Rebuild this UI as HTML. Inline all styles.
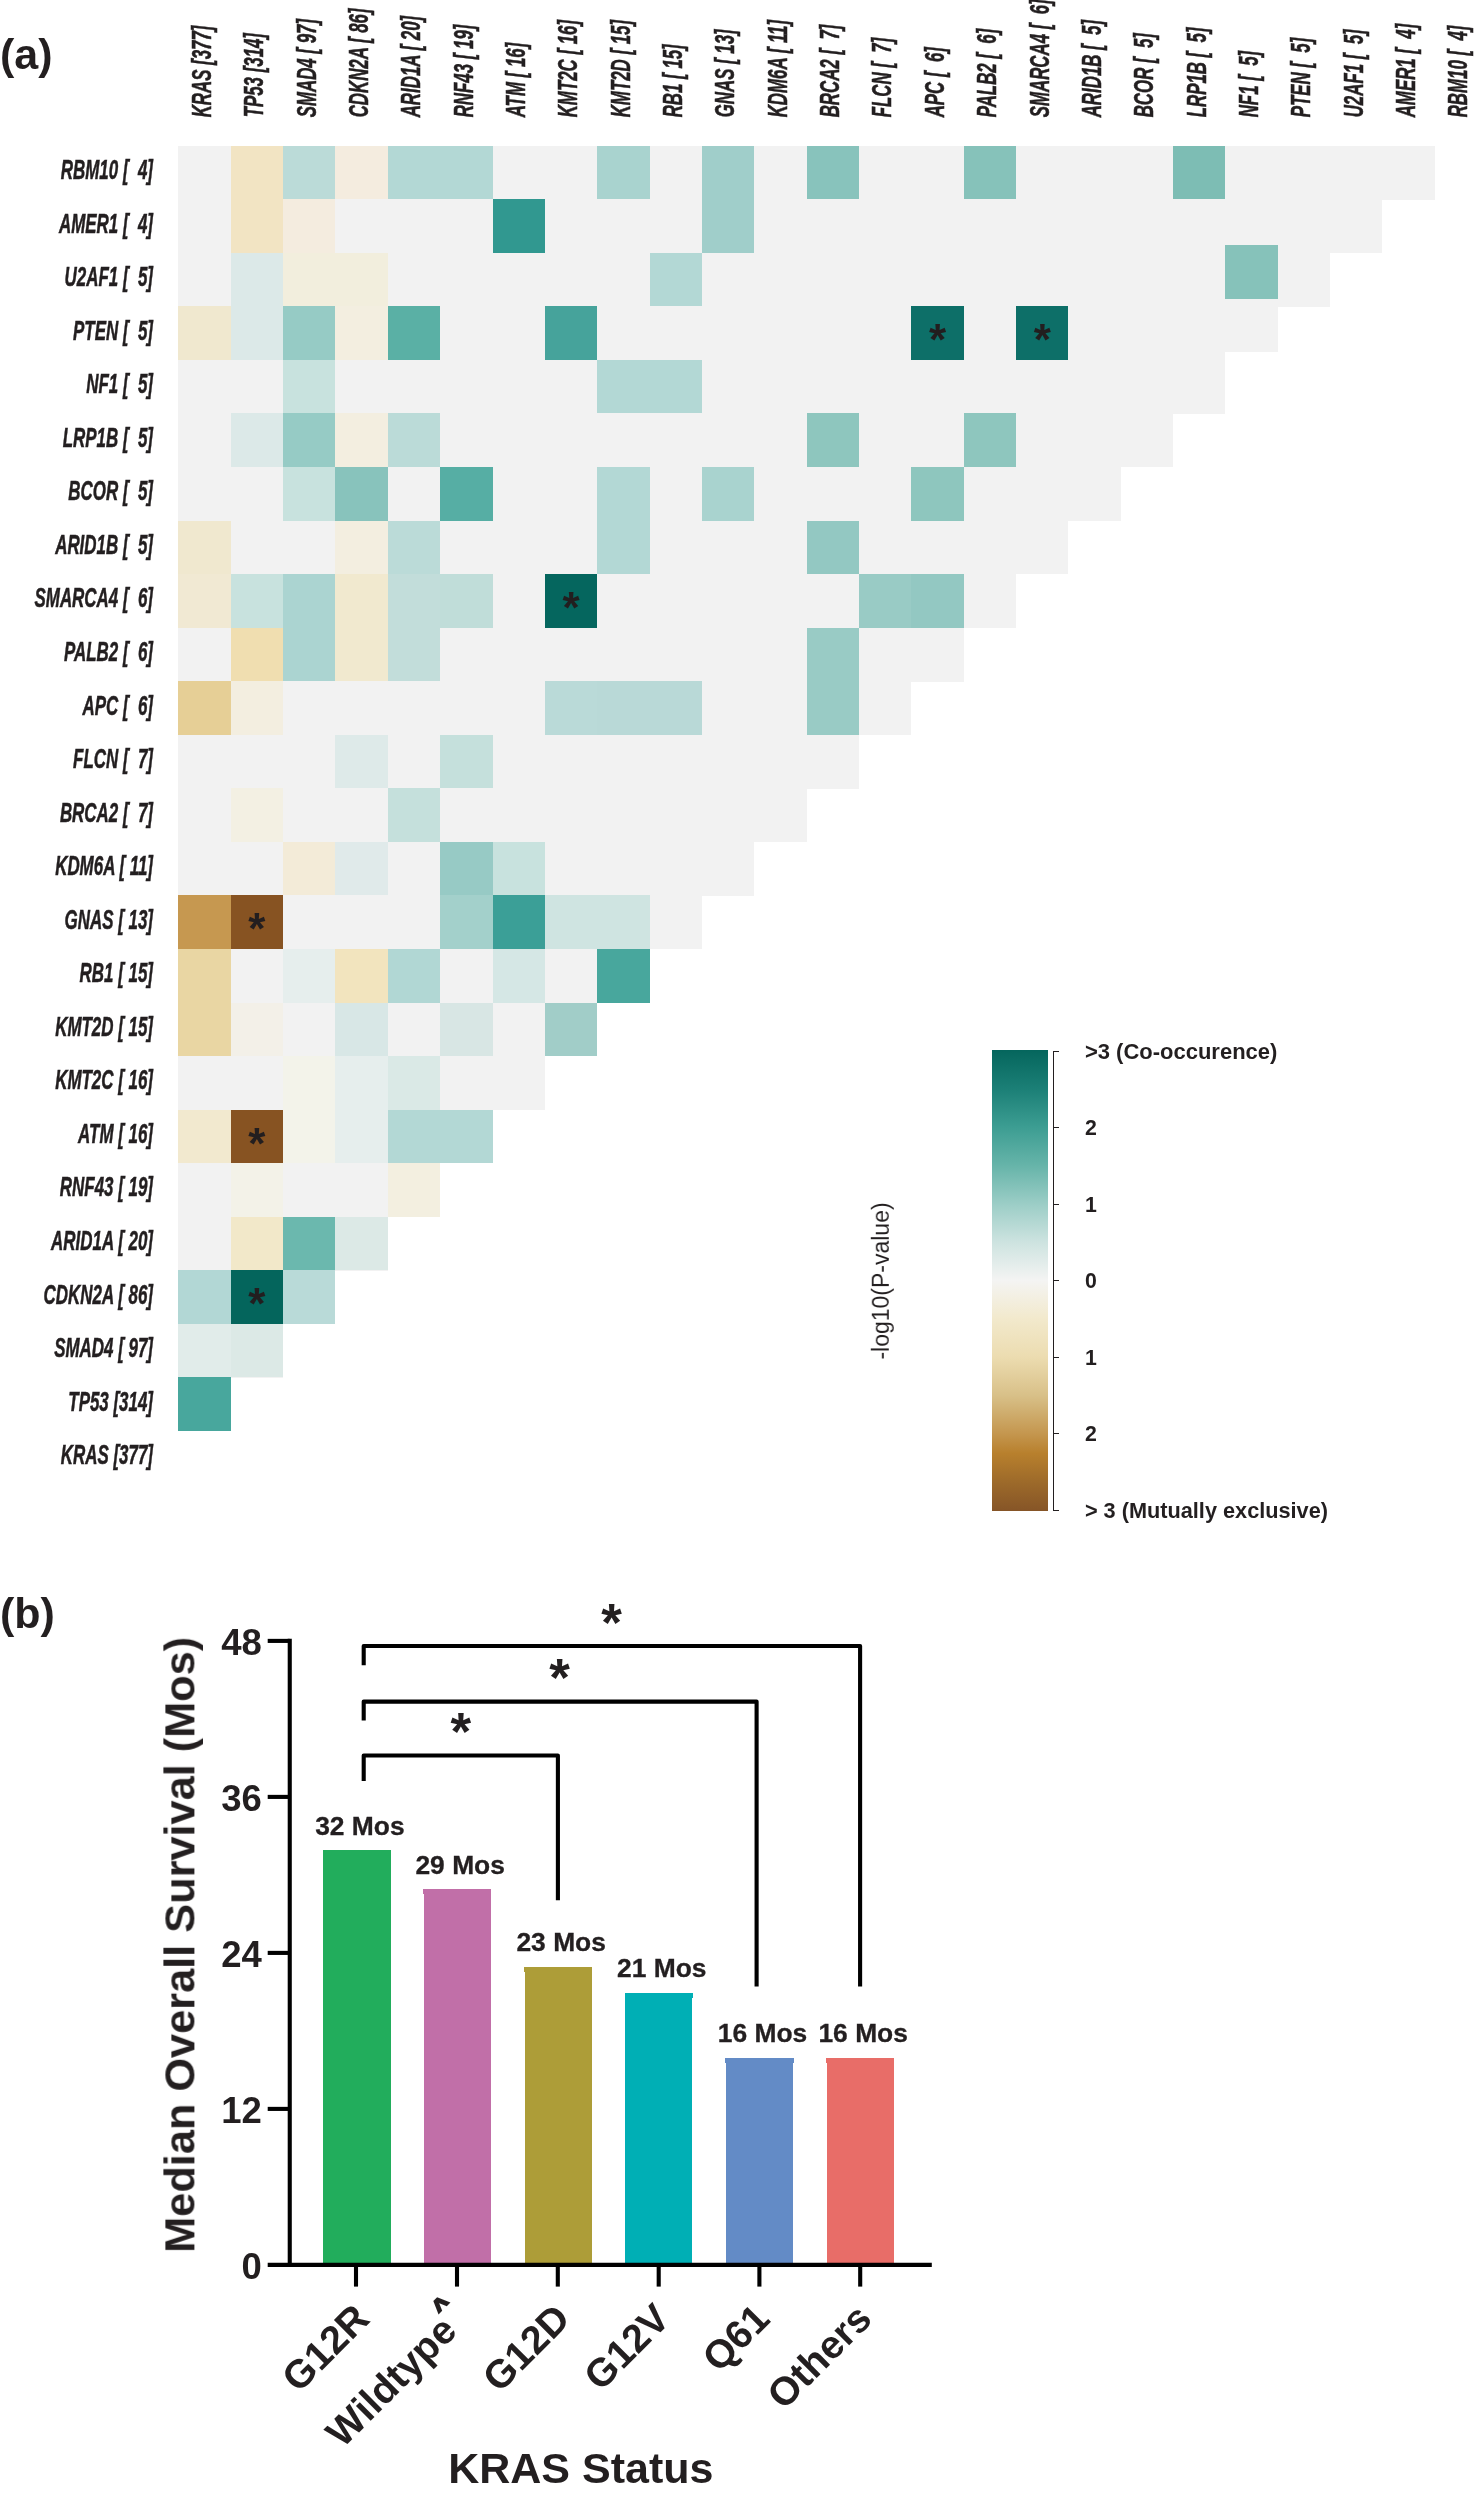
<!DOCTYPE html>
<html lang="en"><head><meta charset="utf-8"><title>Figure</title>
<style>html,body{margin:0;padding:0;background:#fff;overflow:hidden}svg{display:block}text{font-family:"Liberation Sans",sans-serif;fill:#231f20}.g{font-weight:bold;font-style:italic;font-size:26.8px;stroke:#231f20;stroke-width:.45px;vector-effect:non-scaling-stroke}.b{font-weight:bold}</style></head><body>
<svg width="1477" height="2500" viewBox="0 0 1477 2500" shape-rendering="crispEdges">
<rect width="1477" height="2500" fill="#fff"/>
<g id="heatmap">
<rect x="178.40" y="145.70" width="1256.40" height="53.85" fill="#f2f2f2"/>
<rect x="178.40" y="199.25" width="1204.05" height="53.85" fill="#f2f2f2"/>
<rect x="178.40" y="252.80" width="1151.70" height="53.85" fill="#f2f2f2"/>
<rect x="178.40" y="306.35" width="1047.00" height="53.85" fill="#f2f2f2"/>
<rect x="1225.40" y="298.35" width="52.35" height="53.55" fill="#f2f2f2"/>
<rect x="178.40" y="359.90" width="1047.00" height="53.85" fill="#f2f2f2"/>
<rect x="178.40" y="413.45" width="994.65" height="53.85" fill="#f2f2f2"/>
<rect x="178.40" y="467.00" width="942.30" height="53.85" fill="#f2f2f2"/>
<rect x="178.40" y="520.55" width="889.95" height="53.85" fill="#f2f2f2"/>
<rect x="178.40" y="574.10" width="837.60" height="53.85" fill="#f2f2f2"/>
<rect x="178.40" y="627.65" width="785.25" height="53.85" fill="#f2f2f2"/>
<rect x="178.40" y="681.20" width="732.90" height="53.85" fill="#f2f2f2"/>
<rect x="178.40" y="734.75" width="680.55" height="53.85" fill="#f2f2f2"/>
<rect x="178.40" y="788.30" width="628.20" height="53.85" fill="#f2f2f2"/>
<rect x="178.40" y="841.85" width="575.85" height="53.85" fill="#f2f2f2"/>
<rect x="178.40" y="895.40" width="523.50" height="53.85" fill="#f2f2f2"/>
<rect x="178.40" y="948.95" width="471.15" height="53.85" fill="#f2f2f2"/>
<rect x="178.40" y="1002.50" width="418.80" height="53.85" fill="#f2f2f2"/>
<rect x="178.40" y="1056.05" width="366.45" height="53.85" fill="#f2f2f2"/>
<rect x="178.40" y="1109.60" width="314.10" height="53.85" fill="#f2f2f2"/>
<rect x="178.40" y="1163.15" width="261.75" height="53.85" fill="#f2f2f2"/>
<rect x="178.40" y="1216.70" width="209.40" height="53.85" fill="#f2f2f2"/>
<rect x="178.40" y="1270.25" width="157.05" height="53.85" fill="#f2f2f2"/>
<rect x="178.40" y="1323.80" width="104.70" height="53.85" fill="#f2f2f2"/>
<rect x="178.40" y="1377.35" width="52.35" height="53.85" fill="#f2f2f2"/>
<rect x="230.75" y="145.70" width="52.35" height="53.55" fill="#f2e4c3"/>
<rect x="283.10" y="145.70" width="52.35" height="53.55" fill="#bbdbd8"/>
<rect x="335.45" y="145.70" width="52.35" height="53.55" fill="#f4ecdf"/>
<rect x="387.80" y="145.70" width="52.35" height="53.55" fill="#b3d8d5"/>
<rect x="440.15" y="145.70" width="52.35" height="53.55" fill="#b3d8d5"/>
<rect x="597.20" y="145.70" width="52.35" height="53.55" fill="#a9d3cf"/>
<rect x="701.90" y="145.70" width="52.35" height="53.55" fill="#a0ceca"/>
<rect x="806.60" y="145.70" width="52.35" height="53.55" fill="#88c3bc"/>
<rect x="963.65" y="145.70" width="52.35" height="53.55" fill="#86c2ba"/>
<rect x="1173.05" y="145.70" width="52.35" height="53.55" fill="#7dbdb4"/>
<rect x="230.75" y="199.25" width="52.35" height="53.55" fill="#f2e4c3"/>
<rect x="283.10" y="199.25" width="52.35" height="53.55" fill="#f4ecdf"/>
<rect x="492.50" y="199.25" width="52.35" height="53.55" fill="#319890"/>
<rect x="701.90" y="199.25" width="52.35" height="53.55" fill="#a0ceca"/>
<rect x="230.75" y="252.80" width="52.35" height="53.55" fill="#dce9e8"/>
<rect x="283.10" y="252.80" width="52.35" height="53.55" fill="#f2eedd"/>
<rect x="335.45" y="252.80" width="52.35" height="53.55" fill="#f2eedd"/>
<rect x="649.55" y="252.80" width="52.35" height="53.55" fill="#b3d8d5"/>
<rect x="1225.40" y="245.20" width="52.35" height="53.55" fill="#86c2ba"/>
<rect x="178.40" y="306.35" width="52.35" height="53.55" fill="#f0e8cf"/>
<rect x="230.75" y="306.35" width="52.35" height="53.55" fill="#dce9e8"/>
<rect x="283.10" y="306.35" width="52.35" height="53.55" fill="#96cbc5"/>
<rect x="335.45" y="306.35" width="52.35" height="53.55" fill="#f3eee0"/>
<rect x="387.80" y="306.35" width="52.35" height="53.55" fill="#5ab0a5"/>
<rect x="544.85" y="306.35" width="52.35" height="53.55" fill="#46a39b"/>
<rect x="911.30" y="306.35" width="52.35" height="53.55" fill="#0d6f68"/>
<rect x="1016.00" y="306.35" width="52.35" height="53.55" fill="#0d6f68"/>
<rect x="283.10" y="359.90" width="52.35" height="53.55" fill="#c8e2de"/>
<rect x="597.20" y="359.90" width="52.35" height="53.55" fill="#b3d8d5"/>
<rect x="649.55" y="359.90" width="52.35" height="53.55" fill="#b3d8d5"/>
<rect x="230.75" y="413.45" width="52.35" height="53.55" fill="#dce9e8"/>
<rect x="283.10" y="413.45" width="52.35" height="53.55" fill="#96cbc5"/>
<rect x="335.45" y="413.45" width="52.35" height="53.55" fill="#f3eee0"/>
<rect x="387.80" y="413.45" width="52.35" height="53.55" fill="#bbdbd8"/>
<rect x="806.60" y="413.45" width="52.35" height="53.55" fill="#8ec6be"/>
<rect x="963.65" y="413.45" width="52.35" height="53.55" fill="#8ec6be"/>
<rect x="283.10" y="467.00" width="52.35" height="53.55" fill="#c8e2de"/>
<rect x="335.45" y="467.00" width="52.35" height="53.55" fill="#88c3bc"/>
<rect x="440.15" y="467.00" width="52.35" height="53.55" fill="#56aea4"/>
<rect x="597.20" y="467.00" width="52.35" height="53.55" fill="#b3d8d5"/>
<rect x="701.90" y="467.00" width="52.35" height="53.55" fill="#a9d3cf"/>
<rect x="911.30" y="467.00" width="52.35" height="53.55" fill="#8ec6be"/>
<rect x="178.40" y="520.55" width="52.35" height="53.55" fill="#f0e8cf"/>
<rect x="335.45" y="520.55" width="52.35" height="53.55" fill="#f3eee0"/>
<rect x="387.80" y="520.55" width="52.35" height="53.55" fill="#bbdbd8"/>
<rect x="597.20" y="520.55" width="52.35" height="53.55" fill="#b3d8d5"/>
<rect x="806.60" y="520.55" width="52.35" height="53.55" fill="#93c8c2"/>
<rect x="178.40" y="574.10" width="52.35" height="53.55" fill="#f1e9d3"/>
<rect x="230.75" y="574.10" width="52.35" height="53.55" fill="#c8e2de"/>
<rect x="283.10" y="574.10" width="52.35" height="53.55" fill="#abd4d1"/>
<rect x="335.45" y="574.10" width="52.35" height="53.55" fill="#f1e9cf"/>
<rect x="387.80" y="574.10" width="52.35" height="53.55" fill="#c2ddda"/>
<rect x="440.15" y="574.10" width="52.35" height="53.55" fill="#c0ddd9"/>
<rect x="544.85" y="574.10" width="52.35" height="53.55" fill="#05665e"/>
<rect x="858.95" y="574.10" width="52.35" height="53.55" fill="#99cbc5"/>
<rect x="911.30" y="574.10" width="52.35" height="53.55" fill="#93c8c2"/>
<rect x="230.75" y="627.65" width="52.35" height="53.55" fill="#f0deb0"/>
<rect x="283.10" y="627.65" width="52.35" height="53.55" fill="#abd4d1"/>
<rect x="335.45" y="627.65" width="52.35" height="53.55" fill="#f1e9cf"/>
<rect x="387.80" y="627.65" width="52.35" height="53.55" fill="#c2ddda"/>
<rect x="806.60" y="627.65" width="52.35" height="53.55" fill="#99cbc5"/>
<rect x="178.40" y="681.20" width="52.35" height="53.55" fill="#e6cf96"/>
<rect x="230.75" y="681.20" width="52.35" height="53.55" fill="#f3eee0"/>
<rect x="544.85" y="681.20" width="52.35" height="53.55" fill="#badad8"/>
<rect x="597.20" y="681.20" width="52.35" height="53.55" fill="#b9d9d7"/>
<rect x="649.55" y="681.20" width="52.35" height="53.55" fill="#b9d9d7"/>
<rect x="806.60" y="681.20" width="52.35" height="53.55" fill="#99cbc5"/>
<rect x="335.45" y="734.75" width="52.35" height="53.55" fill="#deeae9"/>
<rect x="440.15" y="734.75" width="52.35" height="53.55" fill="#c5e0dc"/>
<rect x="230.75" y="788.30" width="52.35" height="53.55" fill="#f3f0e3"/>
<rect x="387.80" y="788.30" width="52.35" height="53.55" fill="#c5e0dc"/>
<rect x="283.10" y="841.85" width="52.35" height="53.55" fill="#f3ebd8"/>
<rect x="335.45" y="841.85" width="52.35" height="53.55" fill="#e0eaea"/>
<rect x="440.15" y="841.85" width="52.35" height="53.55" fill="#97cac5"/>
<rect x="492.50" y="841.85" width="52.35" height="53.55" fill="#c8e2de"/>
<rect x="178.40" y="895.40" width="52.35" height="53.55" fill="#c69850"/>
<rect x="230.75" y="895.40" width="52.35" height="53.55" fill="#875322"/>
<rect x="440.15" y="895.40" width="52.35" height="53.55" fill="#a3d0cb"/>
<rect x="492.50" y="895.40" width="52.35" height="53.55" fill="#3b9f97"/>
<rect x="544.85" y="895.40" width="52.35" height="53.55" fill="#cfe4e1"/>
<rect x="597.20" y="895.40" width="52.35" height="53.55" fill="#cfe4e1"/>
<rect x="178.40" y="948.95" width="52.35" height="53.55" fill="#e9d6a3"/>
<rect x="283.10" y="948.95" width="52.35" height="53.55" fill="#e6eeed"/>
<rect x="335.45" y="948.95" width="52.35" height="53.55" fill="#f2e4be"/>
<rect x="387.80" y="948.95" width="52.35" height="53.55" fill="#b1d7d4"/>
<rect x="492.50" y="948.95" width="52.35" height="53.55" fill="#d5e7e5"/>
<rect x="597.20" y="948.95" width="52.35" height="53.55" fill="#48a79d"/>
<rect x="178.40" y="1002.50" width="52.35" height="53.55" fill="#e9d6a3"/>
<rect x="230.75" y="1002.50" width="52.35" height="53.55" fill="#f3f0e8"/>
<rect x="335.45" y="1002.50" width="52.35" height="53.55" fill="#d8e7e6"/>
<rect x="440.15" y="1002.50" width="52.35" height="53.55" fill="#d8e6e4"/>
<rect x="544.85" y="1002.50" width="52.35" height="53.55" fill="#a1cdc8"/>
<rect x="283.10" y="1056.05" width="52.35" height="53.55" fill="#f3f3ea"/>
<rect x="335.45" y="1056.05" width="52.35" height="53.55" fill="#e6eeed"/>
<rect x="387.80" y="1056.05" width="52.35" height="53.55" fill="#dae9e6"/>
<rect x="178.40" y="1109.60" width="52.35" height="53.55" fill="#f2e9cf"/>
<rect x="230.75" y="1109.60" width="52.35" height="53.55" fill="#875322"/>
<rect x="283.10" y="1109.60" width="52.35" height="53.55" fill="#f3f3ea"/>
<rect x="335.45" y="1109.60" width="52.35" height="53.55" fill="#e6eeed"/>
<rect x="387.80" y="1109.60" width="52.35" height="53.55" fill="#b3d8d5"/>
<rect x="440.15" y="1109.60" width="52.35" height="53.55" fill="#b3d8d5"/>
<rect x="230.75" y="1163.15" width="52.35" height="53.55" fill="#f3f2e8"/>
<rect x="387.80" y="1163.15" width="52.35" height="53.55" fill="#f3efe0"/>
<rect x="230.75" y="1216.70" width="52.35" height="53.55" fill="#f2e8c9"/>
<rect x="283.10" y="1216.70" width="52.35" height="53.55" fill="#6bb8ae"/>
<rect x="335.45" y="1216.70" width="52.35" height="53.55" fill="#dce9e6"/>
<rect x="178.40" y="1270.25" width="52.35" height="53.55" fill="#b2d7d5"/>
<rect x="230.75" y="1270.25" width="52.35" height="53.55" fill="#04655c"/>
<rect x="283.10" y="1270.25" width="52.35" height="53.55" fill="#b9dad8"/>
<rect x="178.40" y="1323.80" width="52.35" height="53.55" fill="#e1ecea"/>
<rect x="230.75" y="1323.80" width="52.35" height="53.55" fill="#dce9e6"/>
<rect x="178.40" y="1377.35" width="52.35" height="53.55" fill="#48a79d"/>
</g>
<g id="labels" shape-rendering="auto" opacity="0.999">
<text class="b" x="937.5" y="355.2" font-size="44" text-anchor="middle">*</text>
<text class="b" x="1042.2" y="355.2" font-size="44" text-anchor="middle">*</text>
<text class="b" x="571.0" y="623.0" font-size="44" text-anchor="middle">*</text>
<text class="b" x="256.9" y="944.3" font-size="44" text-anchor="middle">*</text>
<text class="b" x="256.9" y="1158.5" font-size="44" text-anchor="middle">*</text>
<text class="b" x="256.9" y="1319.1" font-size="44" text-anchor="middle">*</text>
<text class="g" xml:space="preserve" text-anchor="end" transform="translate(153,179.0) scale(0.632,1)">RBM10 [  4]</text>
<text class="g" xml:space="preserve" text-anchor="end" transform="translate(153,232.5) scale(0.632,1)">AMER1 [  4]</text>
<text class="g" xml:space="preserve" text-anchor="end" transform="translate(153,286.1) scale(0.632,1)">U2AF1 [  5]</text>
<text class="g" xml:space="preserve" text-anchor="end" transform="translate(153,339.6) scale(0.632,1)">PTEN [  5]</text>
<text class="g" xml:space="preserve" text-anchor="end" transform="translate(153,393.2) scale(0.632,1)">NF1 [  5]</text>
<text class="g" xml:space="preserve" text-anchor="end" transform="translate(153,446.7) scale(0.632,1)">LRP1B [  5]</text>
<text class="g" xml:space="preserve" text-anchor="end" transform="translate(153,500.3) scale(0.632,1)">BCOR [  5]</text>
<text class="g" xml:space="preserve" text-anchor="end" transform="translate(153,553.8) scale(0.632,1)">ARID1B [  5]</text>
<text class="g" xml:space="preserve" text-anchor="end" transform="translate(153,607.4) scale(0.632,1)">SMARCA4 [  6]</text>
<text class="g" xml:space="preserve" text-anchor="end" transform="translate(153,660.9) scale(0.632,1)">PALB2 [  6]</text>
<text class="g" xml:space="preserve" text-anchor="end" transform="translate(153,714.5) scale(0.632,1)">APC [  6]</text>
<text class="g" xml:space="preserve" text-anchor="end" transform="translate(153,768.0) scale(0.632,1)">FLCN [  7]</text>
<text class="g" xml:space="preserve" text-anchor="end" transform="translate(153,821.6) scale(0.632,1)">BRCA2 [  7]</text>
<text class="g" xml:space="preserve" text-anchor="end" transform="translate(153,875.1) scale(0.632,1)">KDM6A [ 11]</text>
<text class="g" xml:space="preserve" text-anchor="end" transform="translate(153,928.7) scale(0.632,1)">GNAS [ 13]</text>
<text class="g" xml:space="preserve" text-anchor="end" transform="translate(153,982.2) scale(0.632,1)">RB1 [ 15]</text>
<text class="g" xml:space="preserve" text-anchor="end" transform="translate(153,1035.8) scale(0.632,1)">KMT2D [ 15]</text>
<text class="g" xml:space="preserve" text-anchor="end" transform="translate(153,1089.3) scale(0.632,1)">KMT2C [ 16]</text>
<text class="g" xml:space="preserve" text-anchor="end" transform="translate(153,1142.9) scale(0.632,1)">ATM [ 16]</text>
<text class="g" xml:space="preserve" text-anchor="end" transform="translate(153,1196.4) scale(0.632,1)">RNF43 [ 19]</text>
<text class="g" xml:space="preserve" text-anchor="end" transform="translate(153,1250.0) scale(0.632,1)">ARID1A [ 20]</text>
<text class="g" xml:space="preserve" text-anchor="end" transform="translate(153,1303.5) scale(0.632,1)">CDKN2A [ 86]</text>
<text class="g" xml:space="preserve" text-anchor="end" transform="translate(153,1357.1) scale(0.632,1)">SMAD4 [ 97]</text>
<text class="g" xml:space="preserve" text-anchor="end" transform="translate(153,1410.6) scale(0.632,1)">TP53 [314]</text>
<text class="g" xml:space="preserve" text-anchor="end" transform="translate(153,1464.2) scale(0.632,1)">KRAS [377]</text>
<text class="g" xml:space="preserve" transform="translate(210.9,117.3) rotate(-90) scale(0.629,1)">KRAS [377]</text>
<text class="g" xml:space="preserve" transform="translate(263.2,117.3) rotate(-90) scale(0.629,1)">TP53 [314]</text>
<text class="g" xml:space="preserve" transform="translate(315.6,117.3) rotate(-90) scale(0.629,1)">SMAD4 [ 97]</text>
<text class="g" xml:space="preserve" transform="translate(367.9,117.3) rotate(-90) scale(0.629,1)">CDKN2A [ 86]</text>
<text class="g" xml:space="preserve" transform="translate(420.3,117.3) rotate(-90) scale(0.629,1)">ARID1A [ 20]</text>
<text class="g" xml:space="preserve" transform="translate(472.6,117.3) rotate(-90) scale(0.629,1)">RNF43 [ 19]</text>
<text class="g" xml:space="preserve" transform="translate(525.0,117.3) rotate(-90) scale(0.629,1)">ATM [ 16]</text>
<text class="g" xml:space="preserve" transform="translate(577.3,117.3) rotate(-90) scale(0.629,1)">KMT2C [ 16]</text>
<text class="g" xml:space="preserve" transform="translate(629.7,117.3) rotate(-90) scale(0.629,1)">KMT2D [ 15]</text>
<text class="g" xml:space="preserve" transform="translate(682.0,117.3) rotate(-90) scale(0.629,1)">RB1 [ 15]</text>
<text class="g" xml:space="preserve" transform="translate(734.4,117.3) rotate(-90) scale(0.629,1)">GNAS [ 13]</text>
<text class="g" xml:space="preserve" transform="translate(786.7,117.3) rotate(-90) scale(0.629,1)">KDM6A [ 11]</text>
<text class="g" xml:space="preserve" transform="translate(839.1,117.3) rotate(-90) scale(0.629,1)">BRCA2 [  7]</text>
<text class="g" xml:space="preserve" transform="translate(891.4,117.3) rotate(-90) scale(0.629,1)">FLCN [  7]</text>
<text class="g" xml:space="preserve" transform="translate(943.8,117.3) rotate(-90) scale(0.629,1)">APC [  6]</text>
<text class="g" xml:space="preserve" transform="translate(996.1,117.3) rotate(-90) scale(0.629,1)">PALB2 [  6]</text>
<text class="g" xml:space="preserve" transform="translate(1048.5,117.3) rotate(-90) scale(0.629,1)">SMARCA4 [  6]</text>
<text class="g" xml:space="preserve" transform="translate(1100.8,117.3) rotate(-90) scale(0.629,1)">ARID1B [  5]</text>
<text class="g" xml:space="preserve" transform="translate(1153.2,117.3) rotate(-90) scale(0.629,1)">BCOR [  5]</text>
<text class="g" xml:space="preserve" transform="translate(1205.5,117.3) rotate(-90) scale(0.629,1)">LRP1B [  5]</text>
<text class="g" xml:space="preserve" transform="translate(1257.9,117.3) rotate(-90) scale(0.629,1)">NF1 [  5]</text>
<text class="g" xml:space="preserve" transform="translate(1310.2,117.3) rotate(-90) scale(0.629,1)">PTEN [  5]</text>
<text class="g" xml:space="preserve" transform="translate(1362.6,117.3) rotate(-90) scale(0.629,1)">U2AF1 [  5]</text>
<text class="g" xml:space="preserve" transform="translate(1414.9,117.3) rotate(-90) scale(0.629,1)">AMER1 [  4]</text>
<text class="g" xml:space="preserve" transform="translate(1467.3,117.3) rotate(-90) scale(0.629,1)">RBM10 [  4]</text>
<text class="b" x="0" y="68.7" font-size="43">(a)</text>
<text class="b" x="0" y="1627.7" font-size="43">(b)</text>
</g>
<defs><linearGradient id="cb" x1="0" y1="0" x2="0" y2="1">
<stop offset="0.0000" stop-color="#05665d"/>
<stop offset="0.0833" stop-color="#1b7f76"/>
<stop offset="0.1666" stop-color="#3c9d92"/>
<stop offset="0.2500" stop-color="#66b4a9"/>
<stop offset="0.3333" stop-color="#9bcdc6"/>
<stop offset="0.4167" stop-color="#cde3e0"/>
<stop offset="0.5000" stop-color="#f4f4f3"/>
<stop offset="0.5834" stop-color="#f2e9cc"/>
<stop offset="0.6666" stop-color="#ecdcb0"/>
<stop offset="0.7500" stop-color="#d8c088"/>
<stop offset="0.8334" stop-color="#c4964e"/>
<stop offset="0.8750" stop-color="#b8802d"/>
<stop offset="0.9375" stop-color="#9d6a2a"/>
<stop offset="1.0000" stop-color="#865527"/>
</linearGradient></defs>
<rect x="992" y="1050.1" width="56.3" height="460.7" fill="url(#cb)"/>
<g stroke="#231f20" stroke-width="1.1" fill="none"><path d="M1059.3 1051.2H1053.8V1510.4H1059.3"/>
<path d="M1053.8 1127.7H1059.3"/>
<path d="M1053.8 1204.3H1059.3"/>
<path d="M1053.8 1280.8H1059.3"/>
<path d="M1053.8 1357.3H1059.3"/>
<path d="M1053.8 1433.8H1059.3"/>
</g>
<g shape-rendering="auto" opacity="0.999">
<text class="b" x="1084.9" y="1058.7" font-size="21.3" textLength="192.5" lengthAdjust="spacingAndGlyphs">&gt;3 (Co-occurence)</text>
<text class="b" x="1084.9" y="1135.2" font-size="21.3">2</text>
<text class="b" x="1084.9" y="1211.8" font-size="21.3">1</text>
<text class="b" x="1084.9" y="1288.3" font-size="21.3">0</text>
<text class="b" x="1084.9" y="1364.8" font-size="21.3">1</text>
<text class="b" x="1084.9" y="1441.3" font-size="21.3">2</text>
<text class="b" x="1084.9" y="1517.9" font-size="21.3" textLength="243.1" lengthAdjust="spacingAndGlyphs">&gt; 3 (Mutually exclusive)</text>
<text font-size="23" text-anchor="middle" transform="translate(888.8,1281) rotate(-90)">-log10(P-value)</text>
</g>
<g id="bars">
<rect x="323.3" y="1850.3" width="67.3" height="413.7" fill="#22ad5c"/>
<rect x="322.8" y="1850.3" width="68.3" height="5" fill="#22ad5c"/>
<rect x="423.6" y="1889.4" width="67.3" height="374.6" fill="#c16fa8"/>
<rect x="423.1" y="1889.4" width="68.3" height="5" fill="#c16fa8"/>
<rect x="524.6" y="1967.2" width="67.3" height="296.8" fill="#ad9d38"/>
<rect x="524.1" y="1967.2" width="68.3" height="5" fill="#ad9d38"/>
<rect x="625.1" y="1993.1" width="67.3" height="270.9" fill="#00afb5"/>
<rect x="624.6" y="1993.1" width="68.3" height="5" fill="#00afb5"/>
<rect x="725.9" y="2057.9" width="67.3" height="206.1" fill="#638bc6"/>
<rect x="725.4" y="2057.9" width="68.3" height="5" fill="#638bc6"/>
<rect x="826.6" y="2057.9" width="67.3" height="206.1" fill="#e86d68"/>
<rect x="826.1" y="2057.9" width="68.3" height="5" fill="#e86d68"/>
</g>
<g stroke="#000" stroke-width="4.1" fill="none" stroke-linejoin="round" shape-rendering="auto">
<path d="M289.75 1638.85V2266.9"/>
<path d="M267.7 2264.9H931.8"/>
<path d="M267.7 1640.9H289.75"/>
<path d="M267.7 1796.9H289.75"/>
<path d="M267.7 1952.9H289.75"/>
<path d="M267.7 2108.9H289.75"/>
<path d="M356.0 2264.9V2286.6"/>
<path d="M457.0 2264.9V2286.6"/>
<path d="M557.8 2264.9V2286.6"/>
<path d="M658.7 2264.9V2286.6"/>
<path d="M759.4 2264.9V2286.6"/>
<path d="M860.2 2264.9V2286.6"/>
<path d="M363.7 1665.3V1646H860.1V1986.4"/>
<path d="M363.7 1720.5V1701.6H756.6V1986.4"/>
<path d="M363.7 1780.9V1755.5H557.9V1900.2"/>
</g>
<g shape-rendering="auto" opacity="0.999">
<text class="b" x="261.8" y="1655.3" font-size="36.5" text-anchor="end">48</text>
<text class="b" x="261.8" y="1811.3" font-size="36.5" text-anchor="end">36</text>
<text class="b" x="261.8" y="1967.3" font-size="36.5" text-anchor="end">24</text>
<text class="b" x="261.8" y="2123.3" font-size="36.5" text-anchor="end">12</text>
<text class="b" x="261.8" y="2279.3" font-size="36.5" text-anchor="end">0</text>
<text class="b" x="359.9" y="1834.5" font-size="25" stroke="#231f20" stroke-width=".3" text-anchor="middle" textLength="89.5" lengthAdjust="spacingAndGlyphs">32 Mos</text>
<text class="b" x="460.2" y="1873.6" font-size="25" stroke="#231f20" stroke-width=".3" text-anchor="middle" textLength="89.5" lengthAdjust="spacingAndGlyphs">29 Mos</text>
<text class="b" x="561.2" y="1951.4" font-size="25" stroke="#231f20" stroke-width=".3" text-anchor="middle" textLength="89.5" lengthAdjust="spacingAndGlyphs">23 Mos</text>
<text class="b" x="661.8" y="1977.3" font-size="25" stroke="#231f20" stroke-width=".3" text-anchor="middle" textLength="89.5" lengthAdjust="spacingAndGlyphs">21 Mos</text>
<text class="b" x="762.5" y="2042.1" font-size="25" stroke="#231f20" stroke-width=".3" text-anchor="middle" textLength="89.5" lengthAdjust="spacingAndGlyphs">16 Mos</text>
<text class="b" x="863.2" y="2042.1" font-size="25" stroke="#231f20" stroke-width=".3" text-anchor="middle" textLength="89.5" lengthAdjust="spacingAndGlyphs">16 Mos</text>
<text class="b" font-size="39.5" text-anchor="end" transform="translate(371.5,2320.9) rotate(-45)">G12R</text>
<text class="b" font-size="39.5" text-anchor="end" transform="translate(469.0,2322.5) rotate(-45)">Wildtype<tspan font-size="25" dy="-22" stroke="#231f20" stroke-width="2.2">^</tspan></text>
<text class="b" font-size="39.5" text-anchor="end" transform="translate(572.1,2320.9) rotate(-45)">G12D</text>
<text class="b" font-size="39.5" text-anchor="end" transform="translate(671.9,2320.9) rotate(-45)">G12V</text>
<text class="b" font-size="39.5" text-anchor="end" transform="translate(771.7,2320.9) rotate(-45)">Q61</text>
<text class="b" font-size="39.5" text-anchor="end" transform="translate(873.7,2320.9) rotate(-45)">Others</text>
<text class="b" font-size="43.3" text-anchor="middle" transform="translate(194.4,1944.8) rotate(-90)">Median Overall Survival (Mos)</text>
<text class="b" font-size="43" text-anchor="middle" x="580.8" y="2483">KRAS Status</text>
<text class="b" x="611.5" y="1640.5" font-size="53" text-anchor="middle">*</text>
<text class="b" x="559.5" y="1695.5" font-size="53" text-anchor="middle">*</text>
<text class="b" x="460.7" y="1750.0" font-size="53" text-anchor="middle">*</text>
</g>
</svg></body></html>
